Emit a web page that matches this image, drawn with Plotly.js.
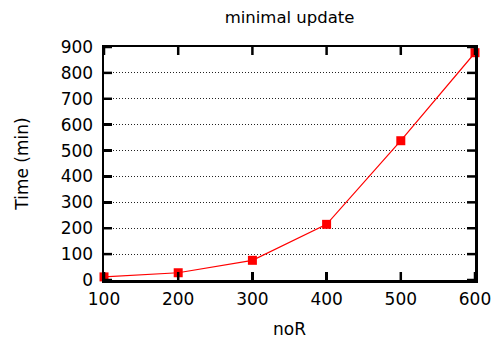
<!DOCTYPE html>
<html><head><meta charset="utf-8">
<script src="https://cdn.plot.ly/plotly-3.0.1.min.js"></script>
<style>html,body{margin:0;padding:0;background:#fff}#chart{width:495px;height:339px}</style>
</head><body><div id="chart"></div>
<script>
const noR = [100, 200, 300, 400, 500, 600];
const timeMin = [12, 28, 76, 215, 538, 878];
const xTicks = [100, 200, 300, 400, 500, 600];
const yTicks = [0, 100, 200, 300, 400, 500, 600, 700, 800, 900];

const font = {family: 'DejaVu Sans, sans-serif', size: 17, color: '#000'};
const tickLine = {color: 'black', width: 2.5};
const tickShapes = [];
xTicks.forEach(v => {
  tickShapes.push({type: 'line', xref: 'x', yref: 'paper', ysizemode: 'pixel', yanchor: 0, x0: v, x1: v, y0: 0, y1: 8, line: tickLine, layer: 'above'});
  tickShapes.push({type: 'line', xref: 'x', yref: 'paper', ysizemode: 'pixel', yanchor: 1, x0: v, x1: v, y0: 0, y1: -8, line: tickLine, layer: 'above'});
});
yTicks.forEach(v => {
  tickShapes.push({type: 'line', yref: 'y', xref: 'paper', xsizemode: 'pixel', xanchor: 0, y0: v, y1: v, x0: 0, x1: 8, line: tickLine, layer: 'above'});
  tickShapes.push({type: 'line', yref: 'y', xref: 'paper', xsizemode: 'pixel', xanchor: 1, y0: v, y1: v, x0: 0, x1: -8, line: tickLine, layer: 'above'});
});

Plotly.newPlot('chart', [{
  x: noR, y: timeMin, type: 'scatter', mode: 'lines+markers',
  line: {color: '#ff0000', width: 1.2},
  marker: {symbol: 'square', size: 9, color: '#ff0000'},
  cliponaxis: false, showlegend: false, hoverinfo: 'skip'
}], {
  width: 495, height: 339,
  margin: {l: 104, r: 20, t: 47, b: 59},
  paper_bgcolor: '#fff', plot_bgcolor: '#fff',
  font: font,
  shapes: tickShapes,
  title: {text: 'minimal update', font: {family: font.family, size: 16.5, color: '#000'}, x: 0.585, xanchor: 'center', y: 0.95, yanchor: 'middle'},
  xaxis: {
    range: [100, 600], tickvals: xTicks,
    showgrid: false, zeroline: false, showline: true, linewidth: 2.5, linecolor: 'black', mirror: true,
    ticks: 'inside', ticklen: 8, tickwidth: 2.5, tickcolor: 'black',
    tickfont: font, ticklabelstandoff: 2,
    title: {text: 'noR', font: font, standoff: 15}
  },
  yaxis: {
    range: [0, 900], tickvals: yTicks,
    showgrid: true, gridcolor: '#222', griddash: '1px,2px', gridwidth: 1,
    zeroline: false, showline: true, linewidth: 2.5, linecolor: 'black', mirror: true,
    ticks: 'inside', ticklen: 8, tickwidth: 2.5, tickcolor: 'black',
    tickfont: font, ticklabelstandoff: 5,
    title: {text: 'Time (min)', font: font, standoff: 28}
  }
}, {staticPlot: true, displayModeBar: false});
</script></body></html>
